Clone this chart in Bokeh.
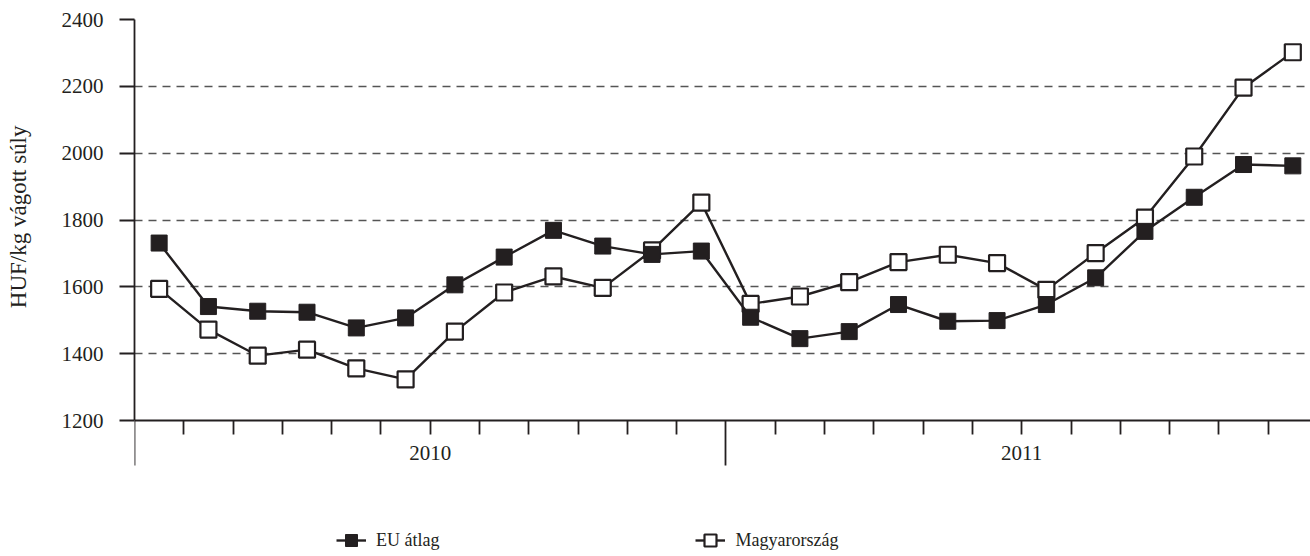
from bokeh.plotting import figure
from bokeh.models import (FixedTicker, Legend, LegendItem, Label, Range1d, Title)
from bokeh.embed import file_html
from bokeh.resources import INLINE

# ---- data ----
years = ["2010", "2011"]
months_per_year = 12
eu_atlag = [1731, 1541, 1527, 1524, 1477, 1507, 1606, 1689, 1769, 1722, 1697, 1707,
            1509, 1445, 1466, 1547, 1497, 1499, 1547, 1627, 1766, 1868, 1966, 1962]
magyarorszag = [1594, 1472, 1394, 1412, 1356, 1323, 1466, 1583, 1631, 1597, 1709, 1852,
                1549, 1571, 1614, 1674, 1696, 1671, 1591, 1701, 1807, 1990, 2196, 2302]
y_ticks = [1200, 1400, 1600, 1800, 2000, 2200, 2400]
y_title = "HUF/kg vágott súly"

n = len(eu_atlag)
xs = [i + 0.5 for i in range(n)]

FONT = "'Liberation Serif', 'Times New Roman', serif"
INK = "#231f20"

PX_X = 49.29            # px per month
PX_Y = 1200 / 401       # data units per px
FW, FH = 1176, 537
y_lo = 2400 - FH * PX_Y

p = figure(frame_width=FW, frame_height=FH, output_backend="svg", toolbar_location=None,
           x_range=Range1d(0, FW / PX_X), y_range=Range1d(y_lo, 2400),
           min_border_top=19, min_border_left=134, min_border_right=0,
           min_border_bottom=0)
p.outline_line_color = None
p.background_fill_color = "white"
p.border_fill_color = "white"

# grid
p.xgrid.grid_line_color = None
p.ygrid.ticker = FixedTicker(ticks=y_ticks[1:])
p.ygrid.grid_line_color = "#555555"
p.ygrid.grid_line_dash = "8 6"
p.ygrid.grid_line_width = 1.3

# y axis
ya = p.yaxis[0]
ya.ticker = FixedTicker(ticks=y_ticks)
ya.bounds = (y_ticks[0], y_ticks[-1])
ya.axis_line_color = INK
ya.axis_line_width = 1.8
ya.major_tick_line_color = INK
ya.major_tick_line_width = 1.8
ya.major_tick_out = 15
ya.major_tick_in = 0
ya.minor_tick_line_color = None
ya.major_label_text_font = FONT
ya.major_label_text_font_size = "21px"
ya.major_label_text_color = INK
ya.major_label_standoff = 16
# blank spacer label to push the rotated title outward
ya.axis_label = "\u00a0"
ya.axis_label_text_font_size = "1px"
ya.axis_label_standoff = 17

# y title placed beside the upper (1200-2400) part of the frame
p.add_layout(Title(text=y_title, align="right", offset=106, standoff=10,
                   vertical_align="top",
                   text_font=FONT, text_font_size="23px", text_font_style="normal",
                   text_color=INK), "left")

# x axis, drawn at the 1200 level inside the frame
xa = p.xaxis[0]
xa.fixed_location = y_ticks[0]
xa.ticker = FixedTicker(ticks=[0, 12, 24], minor_ticks=[i for i in range(1, 24) if i != 12])
xa.axis_line_color = INK
xa.axis_line_width = 1.8
xa.major_tick_line_color = INK
xa.major_tick_line_width = 1.8
xa.major_tick_out = 45
xa.major_tick_in = 0
xa.minor_tick_line_color = INK
xa.minor_tick_line_width = 1.8
xa.minor_tick_out = 14
xa.minor_tick_in = 0
xa.major_label_overrides = {0: "", 12: "", 24: ""}
xa.major_label_text_font_size = "1px"
xa.major_label_standoff = 0

# year labels
for k, yr in enumerate(years):
    p.add_layout(Label(x=k * months_per_year + months_per_year / 2, y=y_ticks[0] - 32 * PX_Y,
                       text=yr, text_font=FONT, text_font_size="21px", text_color=INK,
                       text_align="center", text_baseline="middle"))

# series: Hungary first (beneath), EU on top
hu_line = p.line(xs, magyarorszag, line_color=INK, line_width=2.4)
hu_pts = p.scatter(xs, magyarorszag, marker="square", size=16, fill_color="white",
                   line_color=INK, line_width=2.2)
eu_line = p.line(xs, eu_atlag, line_color=INK, line_width=2.4)
eu_pts = p.scatter(xs, eu_atlag, marker="square", size=16, fill_color=INK,
                   line_color=INK, line_width=1)

legend = Legend(items=[LegendItem(label="EU átlag", renderers=[eu_line, eu_pts]),
                       LegendItem(label="Magyarország", renderers=[hu_line, hu_pts])],
                orientation="horizontal", location=(202, 0),
                label_text_font=FONT, label_text_font_size="18px", label_text_color=INK,
                border_line_color=None, background_fill_alpha=0,
                padding=0, margin=0, spacing=256, glyph_width=30, glyph_height=32,
                label_standoff=10, label_height=32)
p.add_layout(legend)

open("out.html", "w").write(file_html(p, INLINE))
